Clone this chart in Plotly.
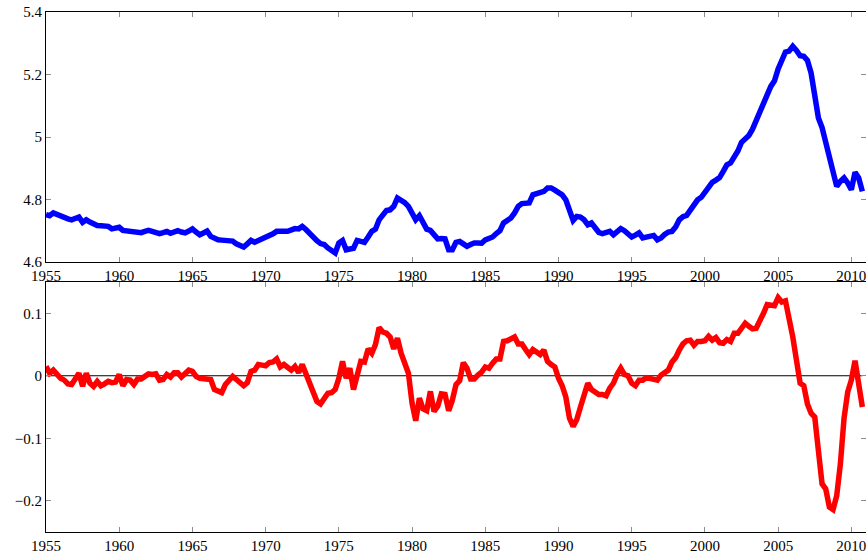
import plotly.graph_objects as go

# Quarterly data, 1955Q1 .. 2010Q4
start_year = 1955
house_price = [
    4.752, 4.748, 4.757, 4.752,  # 1955
    4.745, 4.741, 4.738, 4.735,  # 1956
    4.738, 4.744, 4.727, 4.735,  # 1957
    4.728, 4.722, 4.717, 4.716,  # 1958
    4.717, 4.714, 4.706, 4.708,  # 1959
    4.711, 4.701, 4.700, 4.698,  # 1960
    4.697, 4.695, 4.694, 4.698,  # 1961
    4.701, 4.698, 4.695, 4.691,  # 1962
    4.694, 4.698, 4.692, 4.695,  # 1963
    4.700, 4.696, 4.693, 4.699,  # 1964
    4.706, 4.696, 4.687, 4.693,  # 1965
    4.699, 4.682, 4.676, 4.671,  # 1966
    4.670, 4.669, 4.668, 4.667,  # 1967
    4.658, 4.652, 4.648, 4.658,  # 1968
    4.669, 4.663, 4.668, 4.676,  # 1969
    4.682, 4.684, 4.690, 4.698,  # 1970
    4.696, 4.698, 4.698, 4.703,  # 1971
    4.707, 4.706, 4.714, 4.704,  # 1972
    4.692, 4.675, 4.668, 4.659,  # 1973
    4.656, 4.645, 4.637, 4.629,  # 1974
    4.661, 4.669, 4.639, 4.642,  # 1975
    4.644, 4.669, 4.664, 4.663,  # 1976
    4.680, 4.698, 4.705, 4.735,  # 1977
    4.750, 4.765, 4.767, 4.778,  # 1978
    4.805, 4.799, 4.790, 4.778,  # 1979
    4.757, 4.735, 4.748, 4.728,  # 1980
    4.705, 4.701, 4.688, 4.674,  # 1981
    4.675, 4.674, 4.639, 4.639,  # 1982
    4.663, 4.666, 4.658, 4.650,  # 1983
    4.656, 4.661, 4.661, 4.660,  # 1984
    4.671, 4.675, 4.680, 4.691,  # 1985
    4.700, 4.725, 4.733, 4.741,  # 1986
    4.757, 4.778, 4.787, 4.788,  # 1987
    4.789, 4.815, 4.818, 4.822,  # 1988
    4.826, 4.837, 4.837, 4.830,  # 1989
    4.821, 4.815, 4.799, 4.759,  # 1990
    4.733, 4.746, 4.744, 4.735,  # 1991
    4.719, 4.725, 4.710, 4.695,  # 1992
    4.691, 4.695, 4.698, 4.687,  # 1993
    4.695, 4.707, 4.700, 4.687,  # 1994
    4.680, 4.686, 4.693, 4.677,  # 1995
    4.680, 4.683, 4.685, 4.671,  # 1996
    4.677, 4.688, 4.696, 4.698,  # 1997
    4.712, 4.735, 4.745, 4.749,  # 1998
    4.765, 4.782, 4.799, 4.807,  # 1999
    4.822, 4.840, 4.855, 4.862,  # 2000
    4.870, 4.890, 4.911, 4.917,  # 2001
    4.935, 4.955, 4.983, 4.995,  # 2002
    5.005, 5.025, 5.055, 5.080,  # 2003
    5.115, 5.135, 5.162, 5.180,  # 2004
    5.218, 5.245, 5.272, 5.275,  # 2005
    5.290, 5.277, 5.260, 5.258,  # 2006
    5.245, 5.205, 5.141, 5.061,  # 2007
    5.030, 4.986, 4.934, 4.885,  # 2008
    4.842, 4.858, 4.869, 4.853,  # 2009
    4.831, 4.887, 4.869, 4.826,  # 2010
]

deviation = [
    0.015, 0.004, 0.009, 0.001,  # 1955
    -0.004, -0.007, -0.013, -0.014,  # 1956
    -0.005, 0.004, -0.017, 0.004,  # 1957
    -0.012, -0.017, -0.009, -0.016,  # 1958
    -0.013, -0.009, -0.011, -0.010,  # 1959
    0.002, -0.016, -0.006, -0.007,  # 1960
    -0.014, -0.005, -0.005, -0.001,  # 1961
    0.003, 0.002, 0.003, -0.007,  # 1962
    -0.006, 0.002, -0.002, 0.005,  # 1963
    0.005, -0.002, 0.004, 0.009,  # 1964
    0.007, -0.001, -0.004, -0.004,  # 1965
    -0.005, -0.006, -0.022, -0.025,  # 1966
    -0.027, -0.014, -0.008, -0.001,  # 1967
    -0.006, -0.011, -0.016, -0.011,  # 1968
    0.007, 0.009, 0.018, 0.017,  # 1969
    0.016, 0.021, 0.022, 0.027,  # 1970
    0.014, 0.018, 0.012, 0.009,  # 1971
    0.015, 0.005, 0.018, 0.004,  # 1972
    -0.008, -0.025, -0.041, -0.045,  # 1973
    -0.036, -0.028, -0.027, -0.022,  # 1974
    -0.004, 0.023, -0.004, 0.012,  # 1975
    -0.022, 0.002, 0.023, 0.022,  # 1976
    0.043, 0.036, 0.050, 0.077,  # 1977
    0.070, 0.068, 0.062, 0.043,  # 1978
    0.060, 0.036, 0.020, 0.004,  # 1979
    -0.044, -0.072, -0.036, -0.053,  # 1980
    -0.056, -0.025, -0.057, -0.049,  # 1981
    -0.029, -0.030, -0.056, -0.039,  # 1982
    -0.014, -0.008, 0.021, 0.012,  # 1983
    -0.005, -0.005, 0.001, 0.006,  # 1984
    0.014, 0.012, 0.020, 0.027,  # 1985
    0.027, 0.055, 0.056, 0.060,  # 1986
    0.062, 0.051, 0.051, 0.042,  # 1987
    0.034, 0.042, 0.037, 0.034,  # 1988
    0.041, 0.023, 0.018, 0.014,  # 1989
    -0.004, -0.016, -0.034, -0.068,  # 1990
    -0.081, -0.070, -0.050, -0.028,  # 1991
    -0.012, -0.022, -0.027, -0.030,  # 1992
    -0.030, -0.032, -0.020, -0.012,  # 1993
    0.002, 0.012, 0.002, 0.000,  # 1994
    -0.012, -0.016, -0.007, -0.007,  # 1995
    -0.003, -0.004, -0.006, -0.007,  # 1996
    0.001, 0.005, 0.009, 0.022,  # 1997
    0.029, 0.041, 0.051, 0.056,  # 1998
    0.057, 0.049, 0.055, 0.055,  # 1999
    0.056, 0.063, 0.057, 0.061,  # 2000
    0.053, 0.052, 0.058, 0.055,  # 2001
    0.068, 0.068, 0.076, 0.084,  # 2002
    0.079, 0.075, 0.076, 0.086,  # 2003
    0.100, 0.114, 0.113, 0.112,  # 2004
    0.125, 0.118, 0.120, 0.092,  # 2005
    0.062, 0.025, -0.012, -0.016,  # 2006
    -0.045, -0.060, -0.066, -0.120,  # 2007
    -0.173, -0.181, -0.210, -0.214,  # 2008
    -0.192, -0.141, -0.068, -0.026,  # 2009
    -0.007, 0.024, -0.018, -0.050,  # 2010
]

x_ticks = [1955, 1960, 1965, 1970, 1975, 1980, 1985, 1990, 1995, 2000, 2005, 2010]
top_y_ticks = [4.6, 4.8, 5.0, 5.2, 5.4]
top_y_labels = ["4.6", "4.8", "5", "5.2", "5.4"]
bottom_y_ticks = [-0.2, -0.1, 0.0, 0.1]
bottom_y_labels = ["\u22120.2", "\u22120.1", "0", "0.1"]

dates = [start_year + i / 4 for i in range(len(house_price))]
zeros = [0.0] * len(dates)

fig = go.Figure()
fig.add_trace(go.Scatter(x=dates, y=house_price, mode="lines",
                         line=dict(color="#0000ff", width=5.5),
                         xaxis="x", yaxis="y", showlegend=False, hoverinfo="skip"))
fig.add_trace(go.Scatter(x=dates, y=zeros, mode="lines",
                         line=dict(color="#000000", width=1.2),
                         xaxis="x2", yaxis="y2", showlegend=False, hoverinfo="skip"))
fig.add_trace(go.Scatter(x=dates, y=deviation, mode="lines",
                         line=dict(color="#ff0000", width=5.5),
                         xaxis="x2", yaxis="y2", showlegend=False, hoverinfo="skip"))

font = dict(family="Liberation Serif", size=15, color="#000000")

axis_common = dict(showline=True, linecolor="#000000", linewidth=1, mirror="ticks",
                   ticks="inside", ticklen=5, tickcolor="#8c8c8c", tickwidth=1,
                   showgrid=False, zeroline=False, tickfont=font,
                   ticklabeloverflow="allow")

fig_w, fig_h = 866, 553
m_l, m_r, m_t, m_b = 46, 0, 12, 21
H = fig_h - m_t - m_b
fig.update_layout(
    width=fig_w, height=fig_h,
    margin=dict(l=m_l, r=m_r, t=m_t, b=m_b),
    paper_bgcolor="white", plot_bgcolor="white",
    font=font,
    xaxis=dict(domain=[0, 1], anchor="y", range=[1955, 2011],
               tickvals=x_ticks, ticktext=[str(v) for v in x_ticks], **axis_common),
    yaxis=dict(domain=[270 / H, 1], anchor="x", range=[4.6, 5.4],
               tickvals=top_y_ticks, ticktext=top_y_labels, **axis_common),
    xaxis2=dict(domain=[0, 1], anchor="y2", range=[1955, 2011],
                tickvals=x_ticks, ticktext=[str(v) for v in x_ticks], **axis_common),
    yaxis2=dict(domain=[0, 250 / H], anchor="x2", range=[-0.25, 0.15],
                tickvals=bottom_y_ticks, ticktext=bottom_y_labels, **axis_common),
)

# remove the page's default 8px body margin so the figure sits at the window's corner
fig.write_html("out.html",
               config={"displayModeBar": False},
               post_script="document.body.style.margin='0';document.body.style.overflow='hidden';")
